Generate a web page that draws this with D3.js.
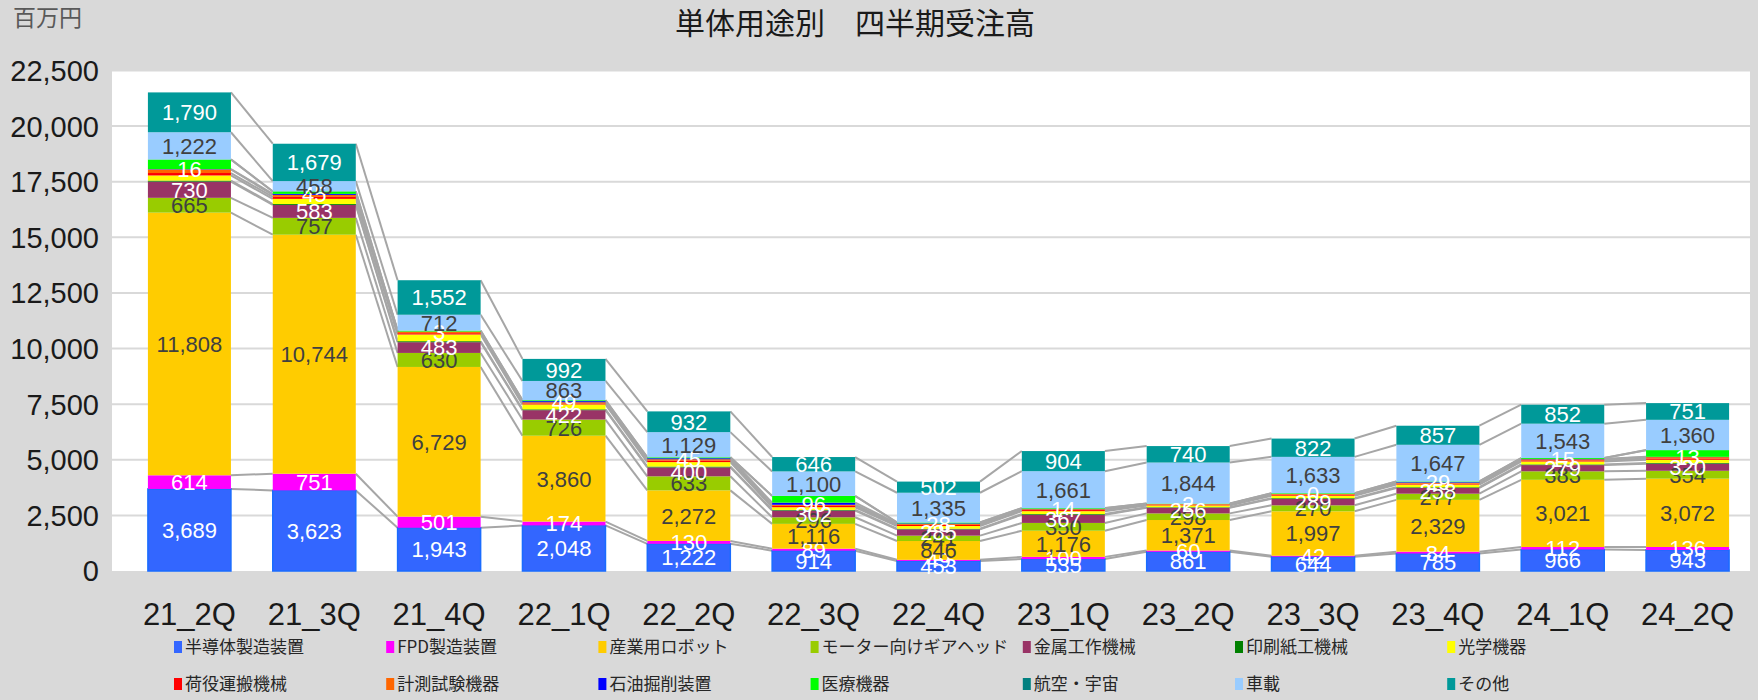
<!DOCTYPE html>
<html>
<head>
<meta charset="utf-8">
<script src="https://cdn.jsdelivr.net/npm/d3@7"></script>
<style>
  body { margin: 0; background: #d9d9d9; }
  svg { display: block; }
</style>
</head>
<body>
<script>
// quarters on the x axis
var quarters = ["21_2Q","21_3Q","21_4Q","22_1Q","22_2Q","22_3Q","22_4Q","23_1Q","23_2Q","23_3Q","23_4Q","24_1Q","24_2Q"];

// series values, bottom of the stack first (百万円)
var semi     = [3689,3623,1943,2048,1222,914,453,535,861,644,785,966,943];
var fpd      = [614,751,501,174,130,89,49,100,60,42,84,112,136];
var robot    = [11808,10744,6729,3860,2272,1116,846,1176,1371,1997,2329,3021,3072];
var motor    = [665,757,630,726,633,296,241,350,298,270,277,383,354];
var metal    = [730,583,483,422,400,302,285,367,256,289,258,279,320];
var printing = [45,40,45,38,38,30,28,32,22,33,32,31,35];
var optics   = [230,230,300,220,200,120,120,130,80,110,120,130,140];
var handling = [110,90,60,40,70,60,50,50,30,40,40,50,60];
var measure  = [160,90,70,60,60,50,40,40,30,40,40,50,60];
var oil      = [16,45,3,49,45,96,28,14,2,0,29,15,13];
var medical  = [430,110,40,40,40,300,40,30,20,30,30,40,300];
var aero     = [6,8,4,3,4,4,3,3,2,3,3,3,3];
var car      = [1222,458,712,863,1129,1100,1335,1661,1844,1633,1647,1543,1360];
var other    = [1790,1679,1552,992,932,646,502,904,740,822,857,852,751];

var yTicks = [0,2500,5000,7500,10000,12500,15000,17500,20000,22500];

var series = [
  {name:"半導体製造装置", values:semi, color:"#3366ff", label:"#fff"},
  {name:"FPD製造装置", values:fpd, color:"#ff00ff", label:"#fff"},
  {name:"産業用ロボット", values:robot, color:"#ffcc00", label:"#404040"},
  {name:"モーター向けギアヘッド", values:motor, color:"#99cc00", label:"#404040"},
  {name:"金属工作機械", values:metal, color:"#993366", label:"#fff"},
  {name:"印刷紙工機械", values:printing, color:"#008000", label:null},
  {name:"光学機器", values:optics, color:"#ffff00", label:null},
  {name:"荷役運搬機械", values:handling, color:"#ff0000", label:null},
  {name:"計測試験機器", values:measure, color:"#ff6600", label:null},
  {name:"石油掘削装置", values:oil, color:"#0000ff", label:"#fff"},
  {name:"医療機器", values:medical, color:"#00ff00", label:null},
  {name:"航空・宇宙", values:aero, color:"#008080", label:null},
  {name:"車載", values:car, color:"#99ccff", label:"#404040"},
  {name:"その他", values:other, color:"#009999", label:"#fff"}
];

var W = 1758, H = 700;
var plot = {left:112, right:1750, top:70, bottom:571};

var svg = d3.select("body").append("svg").attr("width", W).attr("height", H);

// stacked table
var rows = quarters.map(function(q, i) {
  var r = {q:q};
  series.forEach(function(s) { r[s.name] = s.values[i]; });
  return r;
});
var stack = d3.stack().keys(series.map(function(s) { return s.name; }))(rows);

var x = d3.scaleBand().domain(quarters).range([127, 1750]).paddingInner(0.335).paddingOuter(0.1675);
var y = d3.scaleLinear().domain([0, 22500]).range([plot.bottom, plot.top + 0.5]);

svg.append("rect").attr("x", plot.left).attr("y", plot.top)
  .attr("width", plot.right - plot.left).attr("height", plot.bottom - plot.top)
  .attr("fill", "#fff");

// gridlines
svg.append("g").selectAll("line").data(yTicks.slice(1)).enter().append("line")
  .attr("x1", plot.left).attr("x2", plot.right)
  .attr("y1", function(d) { return y(d); }).attr("y2", function(d) { return y(d); })
  .attr("stroke", "#d9d9d9").attr("stroke-width", 2);

// y axis labels
var fmt = d3.format(",");
svg.append("g").selectAll("text").data(yTicks).enter().append("text")
  .attr("x", 99).attr("y", function(d) { return y(d); })
  .attr("dy", "0.36em").attr("text-anchor", "end")
  .attr("font-family", "Liberation Sans, Arial, sans-serif").attr("font-size", 29)
  .attr("fill", "#1a1a1a")
  .text(fmt);

// series lines between bars
var bw = x.bandwidth();
var lineG = svg.append("g");
stack.forEach(function(layer) {
  for (var i = 0; i < quarters.length - 1; i++) {
    lineG.append("line")
      .attr("x1", x(quarters[i]) + bw).attr("y1", y(layer[i][1]))
      .attr("x2", x(quarters[i + 1])).attr("y2", y(layer[i + 1][1]))
      .attr("stroke", "#a6a6a6").attr("stroke-width", 2);
  }
});

// bars
var layers = svg.append("g").selectAll("g").data(stack).enter().append("g")
  .attr("fill", function(d, i) { return series[i].color; });
layers.selectAll("rect").data(function(d) { return d; }).enter().append("rect")
  .attr("x", function(d) { return x(d.data.q); })
  .attr("width", bw)
  .attr("y", function(d) { return y(d[1]); })
  .attr("height", function(d) { return y(d[0]) - y(d[1]); });
layers.filter(function(d, i) { return i === 0; }).selectAll("rect")
  .attr("stroke", "#1a6cff").attr("stroke-width", 1.5);

// data labels inside segments
var labelG = svg.append("g")
  .attr("font-family", "Liberation Sans, Arial, sans-serif").attr("font-size", 22)
  .attr("text-anchor", "middle");
stack.forEach(function(layer, k) {
  if (!series[k].label) return;
  layer.forEach(function(d) {
    labelG.append("text")
      .attr("x", x(d.data.q) + bw / 2)
      .attr("y", (y(d[0]) + y(d[1])) / 2)
      .attr("dy", "0.36em")
      .attr("fill", series[k].label)
      .text(fmt(d[1] - d[0]));
  });
});

// totals above bars
var top = stack[stack.length - 1];
svg.append("g").selectAll("text").data(top).enter().append("text")
  .attr("x", function(d) { return x(d.data.q) + bw / 2; })
  .attr("y", function(d) { return y(d[1]) - 5; })
  .attr("text-anchor", "middle")
  .attr("font-family", "Liberation Sans, Arial, sans-serif").attr("font-size", 22)
  .attr("fill", "#000")
  .text(function(d) { return fmt(d[1]); });

// x axis labels
svg.append("g").selectAll("text").data(quarters).enter().append("text")
  .attr("x", function(d) { return x(d) + bw / 2; })
  .attr("y", 614).attr("dy", "0.36em")
  .attr("text-anchor", "middle")
  .attr("font-family", "Liberation Sans, Arial, sans-serif").attr("font-size", 31)
  .attr("fill", "#1a1a1a")
  .text(function(d) { return d; });

// title and unit
svg.append("text").attr("x", 855).attr("y", 23).attr("dy", "0.36em")
  .attr("text-anchor", "middle")
  .attr("font-family", "Noto Sans CJK JP, sans-serif").attr("font-size", 30)
  .attr("fill", "#1a1a1a")
  .text("単体用途別　四半期受注高");
svg.append("text").attr("x", 13).attr("y", 18).attr("dy", "0.36em")
  .attr("font-family", "Noto Sans CJK JP, sans-serif").attr("font-size", 23)
  .attr("fill", "#595959")
  .text("百万円");

// legend, 2 rows of 7
var legend = svg.append("g").selectAll("g").data(series).enter().append("g")
  .attr("transform", function(d, i) {
    return "translate(" + (174 + (i % 7) * 212.2) + "," + (i < 7 ? 647 : 684) + ")";
  });
legend.append("rect").attr("x", 0).attr("y", -6).attr("width", 8).attr("height", 12)
  .attr("fill", function(d) { return d.color; });
legend.append("text").attr("x", 11).attr("dy", "0.36em")
  .attr("font-family", "Noto Sans CJK JP, sans-serif").attr("font-size", 17)
  .attr("fill", "#262626")
  .text(function(d) { return d.name; });
</script>
</body>
</html>
